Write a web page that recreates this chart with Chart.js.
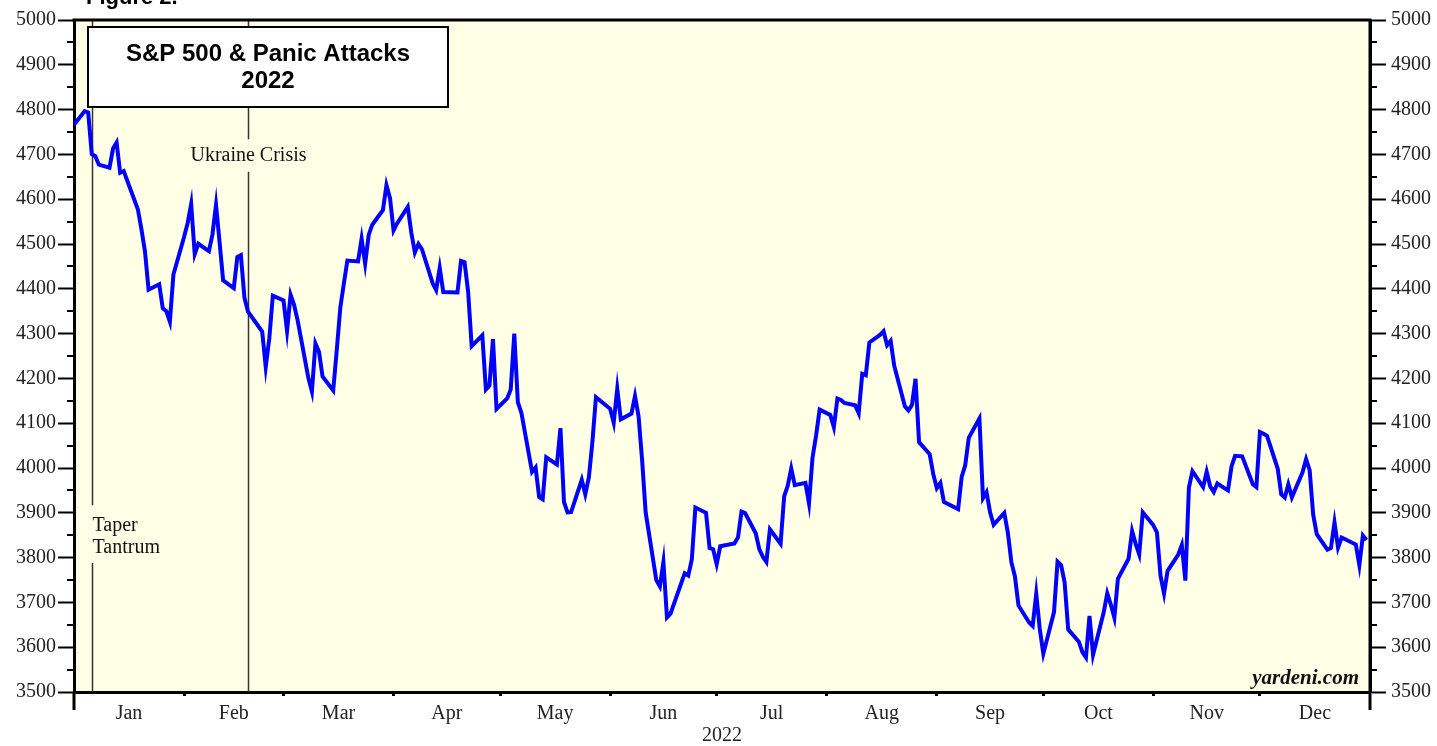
<!DOCTYPE html>
<html>
<head>
<meta charset="utf-8">
<script src="https://cdn.jsdelivr.net/npm/chart.js@4"></script>
<style>
  html, body { margin: 0; padding: 0; background: #fff; }
  #wrap { width: 1437px; height: 746px; }
</style>
</head>
<body>
<div id="wrap"><canvas id="chart" width="1437" height="746"></canvas></div>
<script>
// S&P 500 daily close, 2022 (last close of 2021 first)
const tradeDates = [
  "2021-12-31",
  "2022-01-03","2022-01-04","2022-01-05","2022-01-06","2022-01-07","2022-01-10","2022-01-11","2022-01-12","2022-01-13","2022-01-14",
  "2022-01-18","2022-01-19","2022-01-20","2022-01-21","2022-01-24","2022-01-25","2022-01-26","2022-01-27","2022-01-28","2022-01-31",
  "2022-02-01","2022-02-02","2022-02-03","2022-02-04","2022-02-07","2022-02-08","2022-02-09","2022-02-10","2022-02-11","2022-02-14",
  "2022-02-15","2022-02-16","2022-02-17","2022-02-18","2022-02-22","2022-02-23","2022-02-24","2022-02-25","2022-02-28",
  "2022-03-01","2022-03-02","2022-03-03","2022-03-04","2022-03-07","2022-03-08","2022-03-09","2022-03-10","2022-03-11","2022-03-14",
  "2022-03-15","2022-03-16","2022-03-17","2022-03-18","2022-03-21","2022-03-22","2022-03-23","2022-03-24","2022-03-25","2022-03-28",
  "2022-03-29","2022-03-30","2022-03-31",
  "2022-04-01","2022-04-04","2022-04-05","2022-04-06","2022-04-07","2022-04-08","2022-04-11","2022-04-12","2022-04-13","2022-04-14",
  "2022-04-18","2022-04-19","2022-04-20","2022-04-21","2022-04-22","2022-04-25","2022-04-26","2022-04-27","2022-04-28","2022-04-29",
  "2022-05-02","2022-05-03","2022-05-04","2022-05-05","2022-05-06","2022-05-09","2022-05-10","2022-05-11","2022-05-12","2022-05-13",
  "2022-05-16","2022-05-17","2022-05-18","2022-05-19","2022-05-20","2022-05-23","2022-05-24","2022-05-25","2022-05-26","2022-05-27",
  "2022-05-31",
  "2022-06-01","2022-06-02","2022-06-03","2022-06-06","2022-06-07","2022-06-08","2022-06-09","2022-06-10","2022-06-13","2022-06-14",
  "2022-06-15","2022-06-16","2022-06-17","2022-06-21","2022-06-22","2022-06-23","2022-06-24","2022-06-27","2022-06-28","2022-06-29",
  "2022-06-30",
  "2022-07-01","2022-07-05","2022-07-06","2022-07-07","2022-07-08","2022-07-11","2022-07-12","2022-07-13","2022-07-14","2022-07-15",
  "2022-07-18","2022-07-19","2022-07-20","2022-07-21","2022-07-22","2022-07-25","2022-07-26","2022-07-27","2022-07-28","2022-07-29",
  "2022-08-01","2022-08-02","2022-08-03","2022-08-04","2022-08-05","2022-08-08","2022-08-09","2022-08-10","2022-08-11","2022-08-12",
  "2022-08-15","2022-08-16","2022-08-17","2022-08-18","2022-08-19","2022-08-22","2022-08-23","2022-08-24","2022-08-25","2022-08-26",
  "2022-08-29","2022-08-30","2022-08-31",
  "2022-09-01","2022-09-02","2022-09-06","2022-09-07","2022-09-08","2022-09-09","2022-09-12","2022-09-13","2022-09-14","2022-09-15",
  "2022-09-16","2022-09-19","2022-09-20","2022-09-21","2022-09-22","2022-09-23","2022-09-26","2022-09-27","2022-09-28","2022-09-29",
  "2022-09-30",
  "2022-10-03","2022-10-04","2022-10-05","2022-10-06","2022-10-07","2022-10-10","2022-10-11","2022-10-12","2022-10-13","2022-10-14",
  "2022-10-17","2022-10-18","2022-10-19","2022-10-20","2022-10-21","2022-10-24","2022-10-25","2022-10-26","2022-10-27","2022-10-28",
  "2022-10-31",
  "2022-11-01","2022-11-02","2022-11-03","2022-11-04","2022-11-07","2022-11-08","2022-11-09","2022-11-10","2022-11-11","2022-11-14",
  "2022-11-15","2022-11-16","2022-11-17","2022-11-18","2022-11-21","2022-11-22","2022-11-23","2022-11-25","2022-11-28","2022-11-29",
  "2022-11-30",
  "2022-12-01","2022-12-02","2022-12-05","2022-12-06","2022-12-07","2022-12-08","2022-12-09","2022-12-12","2022-12-13","2022-12-14",
  "2022-12-15","2022-12-16","2022-12-19","2022-12-20","2022-12-21","2022-12-22","2022-12-23","2022-12-27","2022-12-28","2022-12-29",
  "2022-12-30"
];

const closes = [
  4766.18,
  4796.56,4793.54,4700.58,4696.05,4677.03,4670.29,4713.07,4726.35,4659.03,4662.85,
  4577.11,4532.76,4482.73,4397.94,4410.13,4356.45,4349.93,4326.51,4431.85,4515.55,
  4546.54,4589.38,4477.44,4500.53,4483.87,4521.54,4587.18,4504.08,4418.64,4401.67,
  4471.07,4475.01,4380.26,4348.87,4304.76,4225.50,4288.70,4384.65,4373.94,
  4306.26,4386.54,4363.49,4328.87,4201.09,4170.70,4277.88,4259.52,4204.31,4173.11,
  4262.45,4357.86,4411.67,4463.12,4461.18,4511.61,4456.24,4520.16,4543.06,4575.52,
  4631.60,4602.45,4530.41,
  4545.86,4582.64,4525.12,4481.15,4500.21,4488.28,4412.53,4397.45,4446.59,4392.59,
  4391.69,4462.21,4459.45,4393.66,4271.78,4296.12,4175.20,4183.96,4287.50,4131.93,
  4155.38,4175.48,4300.17,4146.87,4123.34,3991.24,4001.05,3935.18,3930.08,4023.89,
  4008.01,4088.85,3923.68,3900.79,3901.36,3973.75,3941.48,3978.73,4057.84,4158.24,
  4132.15,
  4101.23,4176.82,4108.54,4121.43,4160.68,4115.77,4017.82,3900.86,3749.63,3735.48,
  3789.99,3666.77,3674.84,3764.79,3759.89,3795.73,3911.74,3900.11,3821.55,3818.83,
  3785.38,
  3825.33,3831.39,3845.08,3902.62,3899.38,3854.43,3818.80,3801.78,3790.38,3863.16,
  3830.85,3936.69,3959.90,3998.95,3961.63,3966.84,3921.05,4023.61,4072.43,4130.29,
  4118.63,4091.19,4155.17,4151.94,4145.19,4140.06,4122.47,4210.24,4207.27,4280.15,
  4297.14,4305.20,4274.04,4283.74,4228.48,4137.99,4128.73,4140.77,4199.12,4057.66,
  4030.61,3986.16,3955.00,
  3966.85,3924.26,3908.19,3979.87,4006.18,4067.36,4110.41,3932.69,3946.01,3901.35,
  3873.33,3899.89,3855.93,3789.93,3757.99,3693.23,3655.04,3647.29,3719.04,3640.47,
  3585.62,
  3678.43,3790.93,3783.28,3744.52,3639.66,3612.39,3588.84,3577.03,3669.91,3583.07,
  3677.95,3719.98,3695.16,3665.78,3752.75,3797.34,3859.11,3830.60,3807.30,3901.06,
  3871.98,
  3856.10,3759.69,3719.89,3770.55,3806.80,3828.11,3748.57,3956.37,3992.93,3957.25,
  3991.73,3958.79,3946.56,3965.34,3949.94,4003.58,4027.26,4026.12,3963.94,3957.63,
  4080.11,
  4076.57,4071.70,3998.84,3941.26,3933.92,3963.51,3934.38,3990.56,4019.65,3995.32,
  3895.75,3852.36,3817.66,3821.62,3878.44,3822.39,3844.82,3829.25,3783.22,3849.28,
  3839.50
];

const monthLabels = ["Jan","Feb","Mar","Apr","May","Jun","Jul","Aug","Sep","Oct","Nov","Dec"];
const monthEnds = ["2022-01-31","2022-02-28","2022-03-31","2022-04-30","2022-05-31","2022-06-30",
                   "2022-07-31","2022-08-31","2022-09-30","2022-10-31","2022-11-30","2022-12-31"];
const yTicks = { min: 3500, max: 5000, step: 100 };

const events = [
  { date: "2022-01-05", label: ["Taper", "Tantrum"] },
  { date: "2022-02-18", label: ["Ukraine Crisis"] }
];

// days since the last session of 2021
function dayNum(s) {
  const [y, m, d] = s.split("-").map(Number);
  return (Date.UTC(y, m - 1, d) - Date.UTC(2021, 11, 31)) / 86400000;
}

const points = tradeDates.map((d, i) => ({ x: dayNum(d), y: closes[i] }));
const bounds = monthEnds.map(dayNum);
const mids = bounds.map((b, i) => ((i === 0 ? 0 : bounds[i - 1]) + b) / 2);

const SERIF = "'Liberation Serif', 'Times New Roman', serif";
const SANS = "'Liberation Sans', Arial, sans-serif";
Chart.defaults.font.family = SERIF;
Chart.defaults.font.size = 20;
Chart.defaults.color = "#222";

const decor = {
  id: "decor",
  beforeDraw(chart) {
    const { ctx, chartArea: a } = chart;
    ctx.save();
    ctx.fillStyle = "#ffffe6";
    ctx.fillRect(a.left, a.top, a.right - a.left, a.bottom - a.top);
    ctx.restore();
  },
  beforeDatasetsDraw(chart) {
    const { ctx, chartArea: a, scales } = chart;
    const x = scales.x, y = scales.y;
    ctx.save();
    ctx.strokeStyle = "#333";
    ctx.lineWidth = 1.5;
    ctx.fillStyle = "#111";
    ctx.font = "20px " + SERIF;
    ctx.textBaseline = "middle";
    // Taper Tantrum
    let px = Math.round(x.getPixelForValue(dayNum(events[0].date))) + 0.5;
    ctx.beginPath();
    ctx.moveTo(px, a.top); ctx.lineTo(px, y.getPixelForValue(3917));
    ctx.moveTo(px, y.getPixelForValue(3788)); ctx.lineTo(px, a.bottom);
    ctx.stroke();
    ctx.textAlign = "left";
    ctx.fillText(events[0].label[0], px, y.getPixelForValue(3872));
    ctx.fillText(events[0].label[1], px, y.getPixelForValue(3822));
    // Ukraine Crisis
    px = Math.round(x.getPixelForValue(dayNum(events[1].date))) + 0.5;
    ctx.beginPath();
    ctx.moveTo(px, a.top); ctx.lineTo(px, y.getPixelForValue(4734));
    ctx.moveTo(px, y.getPixelForValue(4661)); ctx.lineTo(px, a.bottom);
    ctx.stroke();
    ctx.textAlign = "center";
    ctx.fillText(events[1].label[0], px, y.getPixelForValue(4697));
    ctx.restore();
  },
  afterDraw(chart) {
    const { ctx, chartArea: a, scales } = chart;
    ctx.save();
    ctx.strokeStyle = "#000";
    // frame top and right
    ctx.lineWidth = 3;
    ctx.beginPath();
    ctx.moveTo(a.left - 1.5, a.top); ctx.lineTo(a.right + 1.5, a.top);
    ctx.moveTo(a.right, a.top); ctx.lineTo(a.right, a.bottom);
    // axis corners run down below the date axis
    ctx.moveTo(a.left, a.bottom); ctx.lineTo(a.left, a.bottom + 18);
    ctx.moveTo(a.right, a.bottom); ctx.lineTo(a.right, a.bottom + 18);
    ctx.stroke();
    // minor y ticks
    ctx.lineWidth = 2;
    ctx.beginPath();
    for (let v = yTicks.min + yTicks.step / 2; v < yTicks.max; v += yTicks.step) {
      const py = Math.round(scales.y.getPixelForValue(v));
      ctx.moveTo(a.left - 7, py); ctx.lineTo(a.left, py);
      ctx.moveTo(a.right, py); ctx.lineTo(a.right + 7, py);
    }
    ctx.stroke();

    // title box
    ctx.fillStyle = "#fff";
    ctx.fillRect(88, 27, 360, 80);
    ctx.lineWidth = 2;
    ctx.strokeRect(88, 27, 360, 80);
    ctx.fillStyle = "#000";
    ctx.font = "bold 24px " + SANS;
    ctx.textAlign = "center";
    ctx.textBaseline = "middle";
    ctx.fillText("S&P 500 & Panic Attacks", 268, 54);
    ctx.fillText("2022", 268, 81);

    // figure caption, cut at the top of the picture
    ctx.textAlign = "left";
    ctx.textBaseline = "alphabetic";
    ctx.font = "bold 22px " + SANS;
    ctx.fillText("Figure 2.", 86, 4);

    // source
    ctx.textAlign = "right";
    ctx.font = "italic bold 21px " + SERIF;
    ctx.fillStyle = "#111";
    ctx.fillText("yardeni.com", a.right - 11, a.bottom - 8);
    ctx.restore();
  }
};

const yScale = (position) => ({
  type: "linear",
  position: position,
  min: yTicks.min,
  max: yTicks.max,
  afterBuildTicks: (s) => {
    const t = [];
    for (let v = yTicks.min; v <= yTicks.max; v += yTicks.step) t.push({ value: v });
    s.ticks = t;
  },
  afterFit: (s) => { s.width = position === "left" ? 74 : 67; },
  ticks: {
    padding: position === "left" ? 2 : 5,
    color: "#222",
    font: { size: 20 },
    callback: (v) => String(v)
  },
  grid: { drawOnChartArea: false, tickLength: 16, tickWidth: 2, tickColor: "#000" },
  border: { display: true, color: "#000", width: 3 }
});

new Chart(document.getElementById("chart"), {
  type: "line",
  data: {
    datasets: [{
      label: "S&P 500",
      data: points,
      borderColor: "#0000ff",
      borderWidth: 4,
      pointRadius: 0,
      tension: 0,
      xAxisID: "x",
      yAxisID: "y"
    }]
  },
  options: {
    responsive: false,
    animation: false,
    layout: { padding: { top: 20, left: 0, right: 0, bottom: 0 } },
    plugins: { legend: { display: false }, tooltip: { enabled: false } },
    scales: {
      x: {
        type: "linear",
        position: "bottom",
        weight: 0,
        min: 0,
        max: 365,
        afterBuildTicks: (s) => { s.ticks = bounds.slice(0, -1).map(v => ({ value: v })); },
        afterFit: (s) => { s.height = 6; },
        ticks: { display: false },
        grid: { drawOnChartArea: false, tickLength: 4, tickWidth: 3, tickColor: "#000" },
        border: { display: true, color: "#000", width: 3 }
      },
      x2: {
        type: "linear",
        position: "bottom",
        weight: 1,
        min: 0,
        max: 365,
        afterBuildTicks: (s) => { s.ticks = mids.map(v => ({ value: v })); },
        afterFit: (s) => { s.height = 48; },
        ticks: {
          autoSkip: false,
          maxRotation: 0,
          padding: 4,
          color: "#222",
          callback: (v, i) => monthLabels[i]
        },
        grid: { display: false, drawTicks: false },
        border: { display: false },
        title: { display: true, text: "2022", color: "#222", font: { size: 20, lineHeight: 1 }, padding: { top: 0, bottom: 0 } }
      },
      y: yScale("left"),
      yR: yScale("right")
    }
  },
  plugins: [decor]
});
</script>
</body>
</html>
